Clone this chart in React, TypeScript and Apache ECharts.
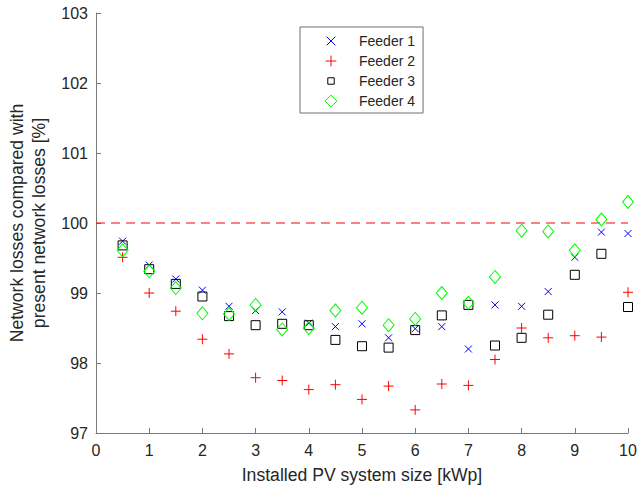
import React, { useEffect, useRef } from "react";
import * as echarts from "echarts";

const pvSize = [0.5, 1, 1.5, 2, 2.5, 3, 3.5, 4, 4.5, 5, 5.5, 6, 6.5, 7, 7.5, 8, 8.5, 9, 9.5, 10];
const feeder1 = [99.74, 99.40, 99.20, 99.04, 98.81, 98.75, 98.73, 98.57, 98.52, 98.56, 98.36, 98.49, 98.52, 98.20, 98.83, 98.81, 99.02, 99.51, 99.87, 99.85];
const feeder2 = [99.51, 99.00, 98.74, 98.34, 98.13, 97.79, 97.75, 97.62, 97.69, 97.48, 97.67, 97.33, 97.70, 97.68, 98.05, 98.50, 98.36, 98.39, 98.37, 99.01];
const feeder3 = [99.68, 99.34, 99.13, 98.95, 98.67, 98.54, 98.56, 98.54, 98.33, 98.24, 98.22, 98.47, 98.68, 98.83, 98.25, 98.36, 98.69, 99.26, 99.56, 98.80];
const feeder4 = [99.61, 99.31, 99.07, 98.71, 98.70, 98.83, 98.48, 98.50, 98.75, 98.79, 98.54, 98.63, 99.00, 98.86, 99.23, 99.89, 99.88, 99.61, 100.05, 100.30];
const seriesNames = ["Feeder 1", "Feeder 2", "Feeder 3", "Feeder 4"];
const referenceLevel = 100;
const xRange = [0, 10];

const FONT = "'Liberation Sans', Arial, Helvetica, sans-serif";
const TEXT = "#262626";
const AXIS = "#7a7a7a";

const pair = (vals: number[]) => vals.map((v, i) => [pvSize[i], v]);

export default function App() {
  const ref = useRef<HTMLDivElement>(null);
  useEffect(() => {
    document.body.style.margin = "0";
    if (!ref.current) return;
    const chart = echarts.init(ref.current, null, { renderer: "svg" });
    const frame = "M0,0M14,14";
    const legendIcons = [
      "path://" + frame + "M3,3L11,11M11,3L3,11",
      "path://" + frame + "M7,2L7,12M2,7L12,7",
      "path://" + frame + "M4,4L10,4L10,10L4,10Z",
      "path://" + frame + "M7,1.5L12.5,7L7,12.5L1.5,7Z",
    ];
    const colors = ["#0000ff", "#ff0000", "#000000", "#00ff00"];
    const symbols: any[] = [
      "path://M0,0L10,10M10,0L0,10",
      "path://M5,0L5,10M0,5L10,5",
      "rect",
      "diamond",
    ];
    const sizes: any[] = [7, 10, 9, [11, 13]];
    const datas = [feeder1, feeder2, feeder3, feeder4];
    const option: any = {
      animation: false,
      grid: { left: 96, right: 14, top: 13, bottom: 54, containLabel: false, outerBoundsMode: "none" },
      xAxis: {
        type: "value",
        min: xRange[0],
        max: xRange[1],
        interval: 1,
        name: "Installed PV system size [kWp]",
        nameLocation: "middle",
        nameGap: 33,
        nameTextStyle: { fontFamily: FONT, fontSize: 17.6, color: TEXT },
        axisLine: { show: true, lineStyle: { color: AXIS, width: 1 } },
        axisTick: { show: true, inside: true, length: 5, lineStyle: { color: AXIS } },
        axisLabel: { fontFamily: FONT, fontSize: 16, color: TEXT, margin: 9 },
        splitLine: { show: false },
      },
      yAxis: {
        type: "value",
        min: 97,
        max: 103,
        interval: 1,
        name: "Network losses compared with\npresent network losses [%]",
        nameLocation: "middle",
        nameGap: 32,
        nameTextStyle: { fontFamily: FONT, fontSize: 17.6, color: TEXT, lineHeight: 22 },
        axisLine: { show: true, lineStyle: { color: AXIS, width: 1 } },
        axisTick: { show: true, inside: true, length: 5, lineStyle: { color: AXIS } },
        axisLabel: { fontFamily: FONT, fontSize: 16, color: TEXT, margin: 8 },
        splitLine: { show: false },
      },
      legend: {
        show: true,
        orient: "vertical",
        left: 300,
        top: 27,
        align: "left",
        padding: [6, 8, 4, 23],
        itemWidth: 46,
        itemHeight: 15,
        itemGap: 4,
        symbolKeepAspect: true,
        selectedMode: false,
        backgroundColor: "#ffffff",
        borderColor: "#6e6e6e",
        borderWidth: 1,
        borderRadius: 0,
        itemStyle: { borderWidth: 1 },
        textStyle: { fontFamily: FONT, fontSize: 14, color: TEXT },
        data: seriesNames.map((n, i) => ({
          name: n,
          icon: legendIcons[i],
          itemStyle: { color: "transparent", borderColor: colors[i], borderWidth: 1 },
        })),
      },
      series: [
        {
          type: "line",
          name: "reference",
          data: [[xRange[0], referenceLevel], [xRange[1], referenceLevel]],
          symbol: "none",
          silent: true,
          lineStyle: { color: "#ff0000", width: 1, type: [9, 6] },
          z: 1,
        },
        ...seriesNames.map((n, i) => ({
          type: "scatter",
          name: n,
          data: pair(datas[i]),
          symbol: symbols[i],
          symbolSize: sizes[i],
          itemStyle: { color: "transparent", borderColor: colors[i], borderWidth: 1, opacity: 1 },
          z: 2 + i,
        })),
      ],
    };
    chart.setOption(option);
    return () => chart.dispose();
  }, []);
  return <div ref={ref} style={{ width: 642, height: 487 }} />;
}
